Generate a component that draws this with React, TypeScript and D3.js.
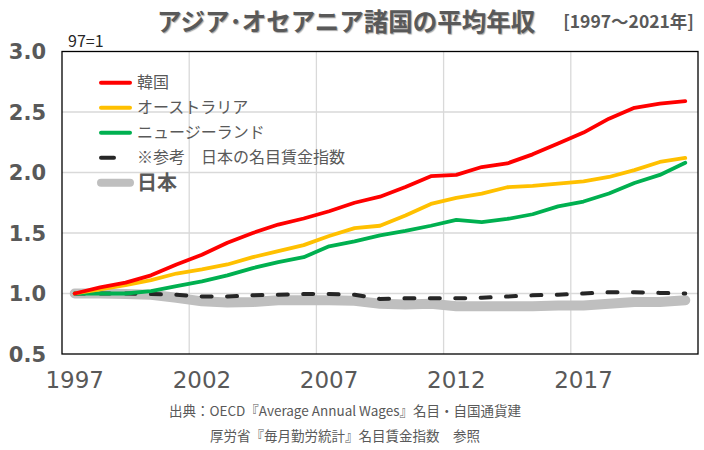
import React from "react";
import * as d3 from "d3";

const years = [1997, 1998, 1999, 2000, 2001, 2002, 2003, 2004, 2005, 2006, 2007, 2008, 2009, 2010, 2011, 2012, 2013, 2014, 2015, 2016, 2017, 2018, 2019, 2020, 2021];
const korea = [1.0, 1.05, 1.09, 1.15, 1.24, 1.32, 1.42, 1.5, 1.57, 1.62, 1.68, 1.75, 1.8, 1.88, 1.97, 1.98, 2.045, 2.075, 2.15, 2.24, 2.33, 2.445, 2.535, 2.57, 2.59];
const australia = [1.0, 1.035, 1.07, 1.11, 1.165, 1.2, 1.24, 1.3, 1.35, 1.4, 1.475, 1.54, 1.56, 1.645, 1.74, 1.79, 1.825, 1.878, 1.889, 1.908, 1.927, 1.963, 2.02, 2.087, 2.12];
const newZealand = [1.0, 1.0, 1.0, 1.02, 1.06, 1.1, 1.15, 1.21, 1.26, 1.3, 1.39, 1.43, 1.48, 1.517, 1.56, 1.608, 1.59, 1.616, 1.655, 1.72, 1.76, 1.826, 1.913, 1.98, 2.08];
const wageIndex = [1.0, 1.0, 1.0, 0.995, 0.99, 0.975, 0.975, 0.985, 0.99, 0.995, 0.995, 0.99, 0.955, 0.96, 0.96, 0.96, 0.965, 0.975, 0.985, 0.99, 1.0, 1.01, 1.01, 1.005, 1.0];
const japan = [1.0, 1.0, 0.995, 0.99, 0.965, 0.935, 0.925, 0.93, 0.945, 0.945, 0.945, 0.94, 0.915, 0.91, 0.915, 0.895, 0.895, 0.895, 0.895, 0.9, 0.9, 0.915, 0.93, 0.93, 0.945];
const yTicks = [0.5, 1.0, 1.5, 2.0, 2.5, 3.0];
const xTickYears = [1997, 2002, 2007, 2012, 2017];

const legendLabels = ["韓国", "オーストラリア", "ニュージーランド", "※参考　日本の名目賃金指数", "日本"];

const W = 704, H = 450;
const L = 62, R = 698, T = 51.5, B = 354;
const GRAY = "#595959";
const NUM_FONT = "'DejaVu Sans', Verdana, sans-serif";
const JP_FONT = "'Noto Sans CJK JP', 'Noto Sans', sans-serif";

export default function App() {
  const x = d3.scaleBand<number>().domain(years).range([L, R]);
  const y = d3.scaleLinear().domain([0.5, 3.0]).range([B, T]);
  const cx = (yr: number) => (x(yr) as number) + x.bandwidth() / 2;
  const line = d3.line<number>().x((_, i) => cx(years[i])).y((v) => y(v));

  const series = [
    { data: japan, color: "#bfbfbf", width: 10, dash: undefined as string | undefined },
    { data: wageIndex, color: "#262626", width: 4, dash: "10 15.4" },
    { data: newZealand, color: "#00b050", width: 3.8, dash: undefined },
    { data: australia, color: "#ffc000", width: 3.8, dash: undefined },
    { data: korea, color: "#ff0000", width: 3.8, dash: undefined },
  ];

  const legend = [
    { color: "#ff0000", width: 4, short: false },
    { color: "#ffc000", width: 4, short: false },
    { color: "#00b050", width: 4, short: false },
    { color: "#262626", width: 4, short: true },
    { color: "#bfbfbf", width: 8, short: false },
  ];

  const vGrid = xTickYears.slice(1).map((yr) => x(yr) as number);

  return (
    <svg width={W} height={H} style={{ display: "block", position: "absolute", left: 0, top: 0 }}>
      <rect x={0} y={0} width={W} height={H} fill="#ffffff" />
      <text x={157} y={31} fontFamily={JP_FONT} fontWeight="bold" fontSize={24.5} fill={GRAY}
        style={{ textShadow: "1px 1px 1px rgba(0,0,0,0.35)" }}>アジア･オセアニア諸国の平均年収</text>
      <text x={694} y={28} textAnchor="end" fontFamily={JP_FONT} fontWeight="bold" fontSize={17.5} fill={GRAY}>[1997～2021年]</text>
      <text x={68} y={47} fontFamily={JP_FONT} fontSize={16} fill="#262626">97=1</text>

      {yTicks.filter((t) => t > 0.5 && t < 3.0).map((t) => (
        <line key={"h" + t} x1={L} x2={R} y1={y(t)} y2={y(t)} stroke="#d9d9d9" strokeWidth={1.3} />
      ))}
      {vGrid.map((gx, i) => (
        <line key={"v" + i} x1={gx} x2={gx} y1={T} y2={B} stroke="#d9d9d9" strokeWidth={1.3} />
      ))}

      {yTicks.map((t) => (
        <text key={"yl" + t} x={46} y={y(t)} dy="0.36em" textAnchor="end" fontFamily={NUM_FONT}
          fontWeight="bold" fontSize={21} fill={GRAY}>{d3.format(".1f")(t)}</text>
      ))}
      {xTickYears.map((yr) => (
        <text key={"xl" + yr} x={cx(yr)} y={388} textAnchor="middle" fontFamily={NUM_FONT}
          fontSize={23} fill={GRAY}>{yr}</text>
      ))}

      {series.map((s, i) => (
        <path key={"s" + i} d={line(s.data) || ""} fill="none" stroke={s.color} strokeWidth={s.width}
          strokeDasharray={s.dash} strokeLinecap="round" strokeLinejoin="round" />
      ))}

      {legend.map((lg, i) => {
        const ly = 82.7 + i * 25;
        return (
          <g key={"lg" + i}>
            <line x1={101} x2={lg.short ? 114 : 130} y1={ly} y2={ly} stroke={lg.color} strokeWidth={lg.width} strokeLinecap="round" />
            <text x={137} y={ly} dy="0.36em" fontFamily={JP_FONT} fontSize={i === 4 ? 20 : 16}
              fontWeight={i === 4 ? "bold" : "normal"} fill={GRAY}>{legendLabels[i]}</text>
          </g>
        );
      })}

      <rect x={L} y={T} width={R - L} height={B - T} fill="none" stroke="#000000" strokeWidth={1.3} />

      <text x={345} y={416} textAnchor="middle" fontFamily={JP_FONT} fontSize={13.5} fill={GRAY}>出典：OECD『Average Annual Wages』名目・自国通貨建</text>
      <text x={345} y={441} textAnchor="middle" fontFamily={JP_FONT} fontSize={13.5} fill={GRAY}>厚労省『毎月勤労統計』名目賃金指数　参照</text>
    </svg>
  );
}
